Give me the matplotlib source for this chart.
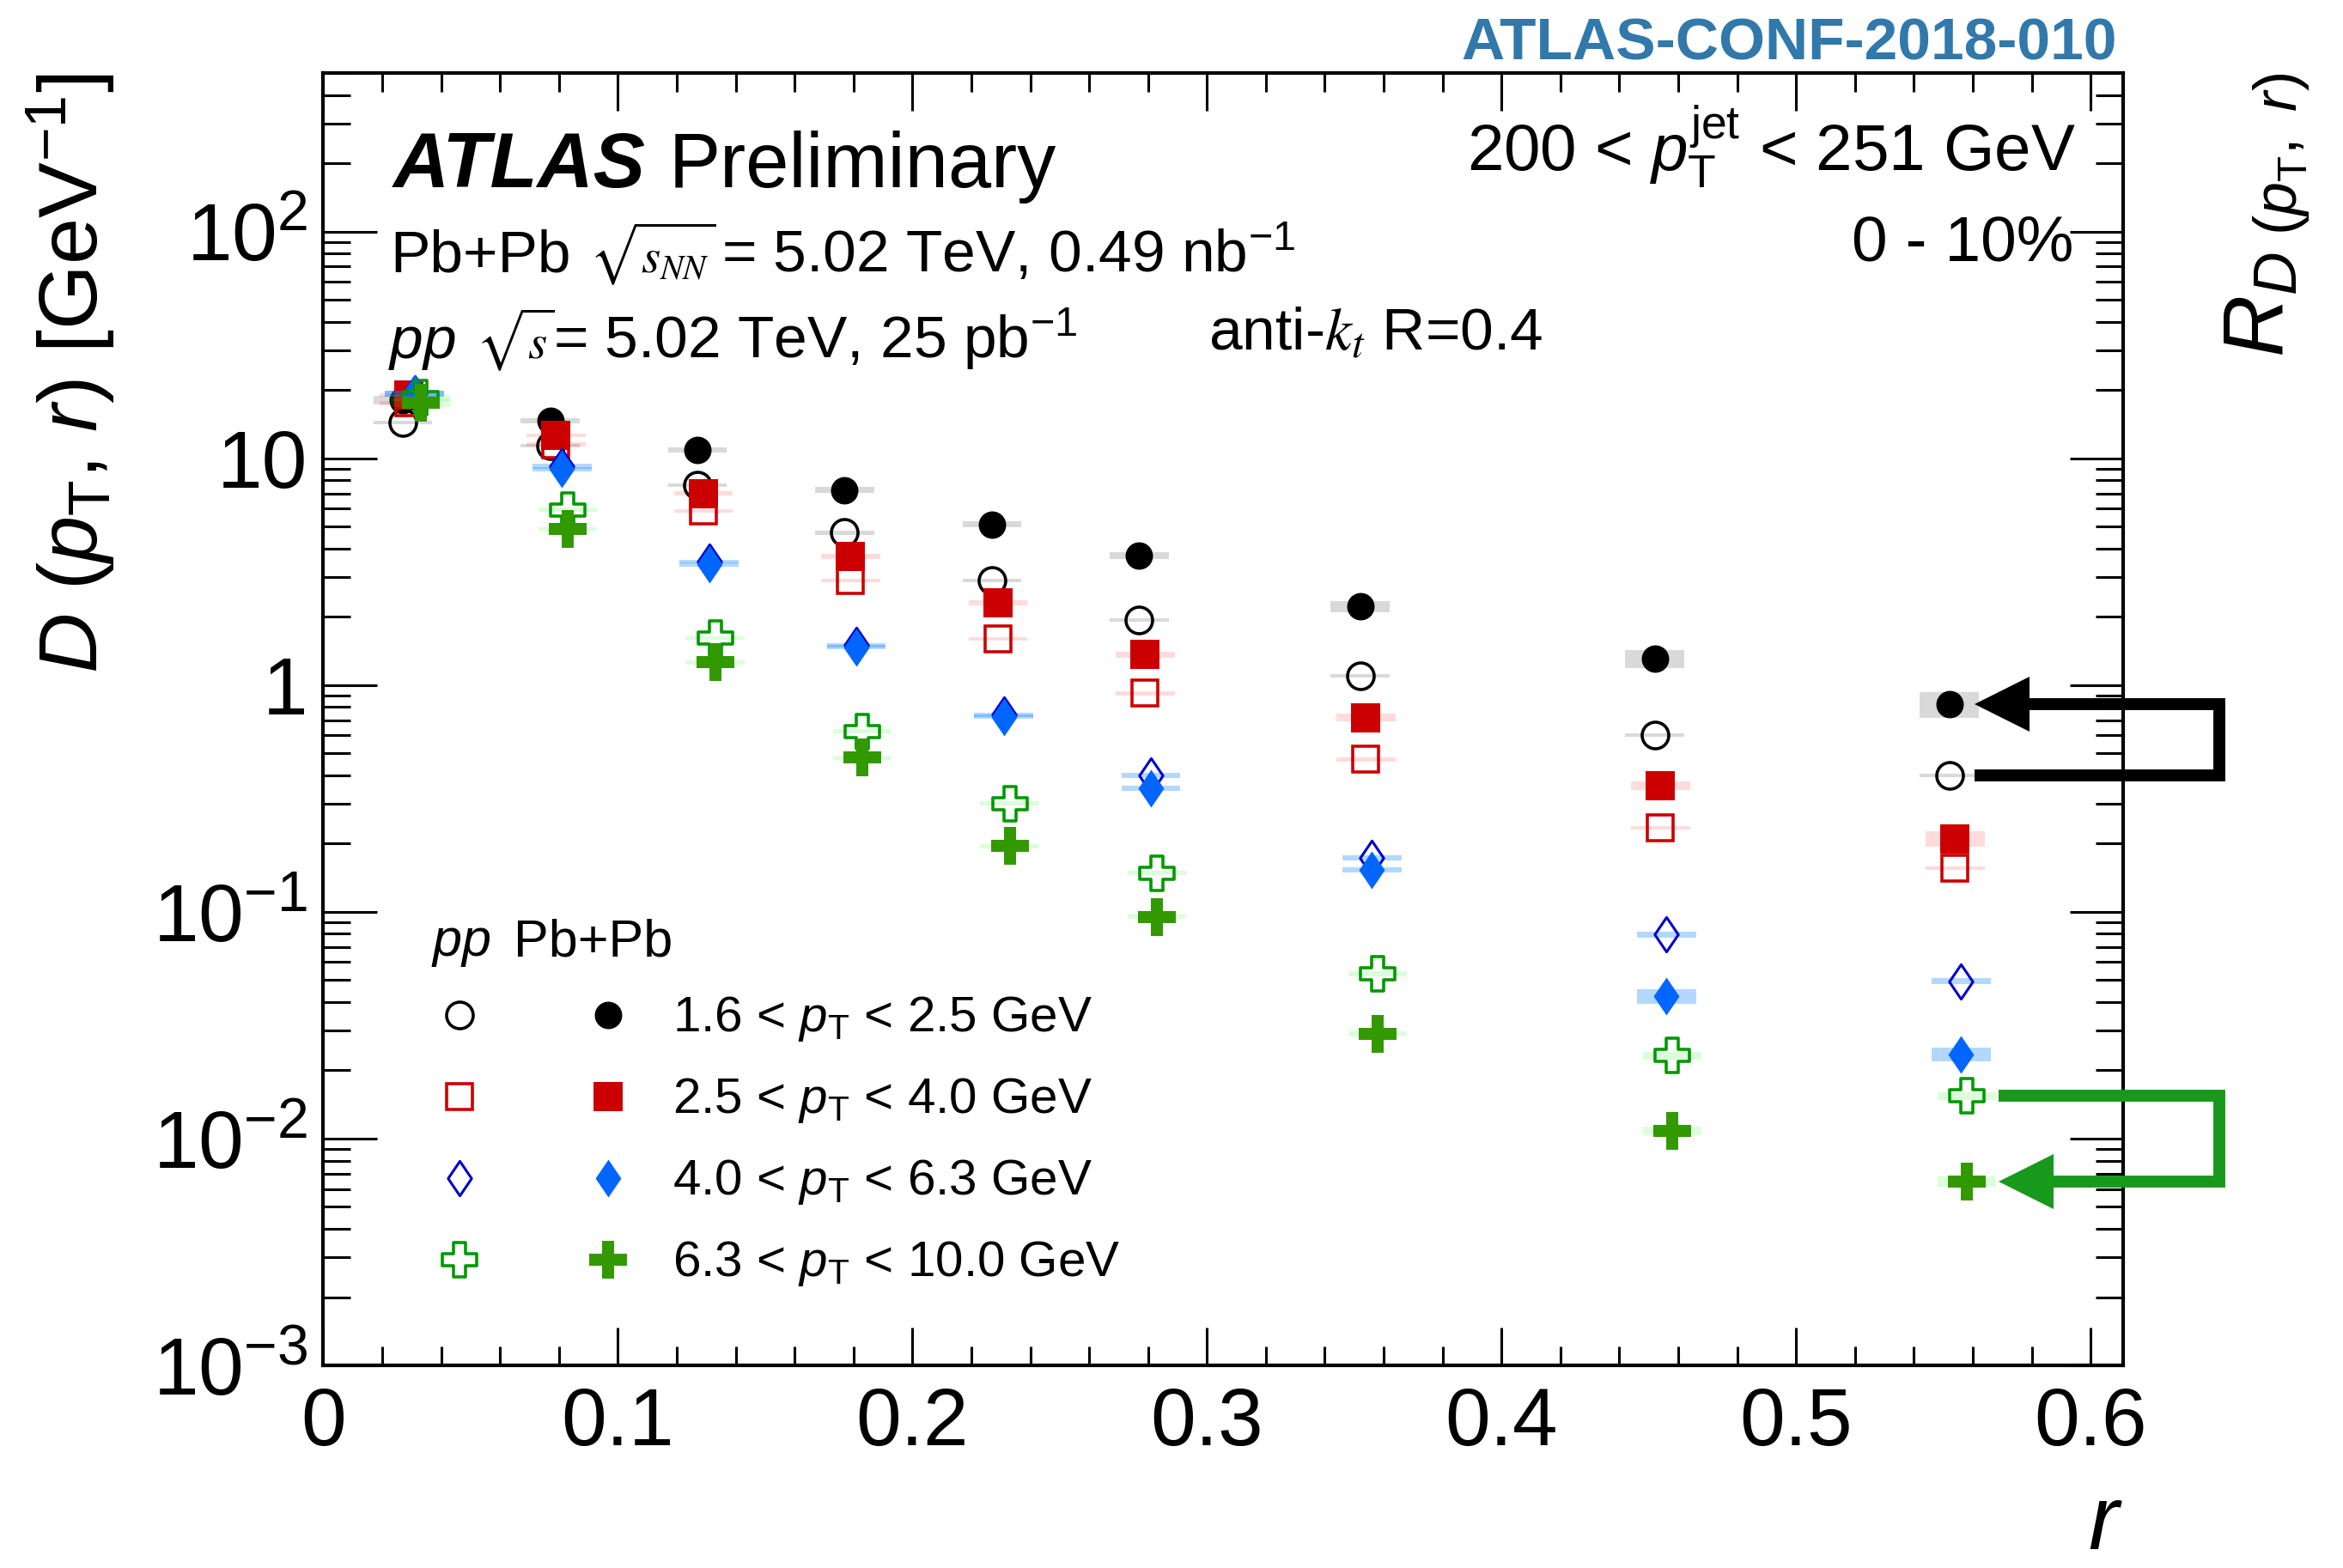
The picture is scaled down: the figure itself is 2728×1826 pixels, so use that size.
import numpy as np
import matplotlib
matplotlib.use('Agg')
import matplotlib.pyplot as plt
from matplotlib.path import Path
from matplotlib.ticker import FixedLocator, FixedFormatter, LogLocator, MultipleLocator, NullFormatter
from matplotlib.transforms import ScaledTranslation

plt.rcParams['font.family'] = ['Liberation Sans', 'DejaVu Sans']
plt.rcParams['mathtext.fontset'] = 'custom'
plt.rcParams['mathtext.rm'] = 'Liberation Sans'
plt.rcParams['mathtext.it'] = 'Liberation Sans:italic'
plt.rcParams['mathtext.bf'] = 'Liberation Sans:bold'

# ---- data ----
r_bins = [0.025, 0.075, 0.125, 0.175, 0.225, 0.275, 0.35, 0.45, 0.55]

pt_labels = ['1.6 < $p_{\\mathrm{T}}$ < 2.5 GeV',
             '2.5 < $p_{\\mathrm{T}}$ < 4.0 GeV',
             '4.0 < $p_{\\mathrm{T}}$ < 6.3 GeV',
             '6.3 < $p_{\\mathrm{T}}$ < 10.0 GeV']

# D(pT, r) [GeV^-1], Pb+Pb 0-10% and pp
pbpb_16_25 = [18.0, 14.6, 10.9, 7.25, 5.1, 3.73, 2.22, 1.31, 0.826]
pp_16_25 = [14.4, 11.4, 7.6, 4.69, 2.89, 1.93, 1.10, 0.60, 0.40]
pbpb_25_40 = [19.0, 12.6, 7.0, 3.70, 2.31, 1.36, 0.718, 0.36, 0.21]
pp_25_40 = [17.5, 11.5, 5.85, 2.89, 1.60, 0.92, 0.47, 0.235, 0.156]
pbpb_40_63 = [19.3, 8.95, 3.4, 1.47, 0.724, 0.35, 0.153, 0.0424, 0.0235]
pp_40_63 = [19.3, 9.2, 3.5, 1.5, 0.74, 0.40, 0.173, 0.0794, 0.0495]
pbpb_63_100 = [17.6, 4.87, 1.26, 0.478, 0.195, 0.095, 0.029, 0.0108, 0.00647]
pp_63_100 = [18.5, 5.92, 1.61, 0.625, 0.30, 0.148, 0.0533, 0.0232, 0.0154]

# relative systematic uncertainties (half height of the boxes)
sys_pbpb_16_25 = [0.045, 0.025, 0.025, 0.03, 0.03, 0.036, 0.06, 0.09, 0.13]
sys_pp_16_25 = [0.018] * 9
sys_pbpb_25_40 = [0.02, 0.02, 0.02, 0.025, 0.025, 0.03, 0.04, 0.045, 0.08]
sys_pp_25_40 = [0.02] * 9
sys_pbpb_40_63 = [0.03, 0.025, 0.022, 0.022, 0.022, 0.024, 0.024, 0.073, 0.068]
sys_pp_40_63 = [0.03, 0.025, 0.02, 0.02, 0.022, 0.024, 0.025, 0.03, 0.034]
sys_pbpb_63_100 = [0.045, 0.02, 0.02, 0.02, 0.022, 0.022, 0.025, 0.045, 0.054]
sys_pp_63_100 = [0.03, 0.02, 0.02, 0.02, 0.022, 0.022, 0.025, 0.035, 0.035]

x_ticks = [0, 0.1, 0.2, 0.3, 0.4, 0.5, 0.6]
x_ticklabels = ['0', '0.1', '0.2', '0.3', '0.4', '0.5', '0.6']
y_ticks = [1e-3, 1e-2, 1e-1, 1, 10, 100]
y_ticklabels = ['$10^{-3}$', '$10^{-2}$', '$10^{-1}$', '1', '10', '$10^{2}$']

# ---- marker shapes ----
def closed(verts):
    return Path(verts + [verts[0]], closed=True)

a = 0.33
cross = closed([(-a, 1), (a, 1), (a, a), (1, a), (1, -a), (a, -a), (a, -1), (-a, -1),
                (-a, -a), (-1, -a), (-1, a), (-a, a)])
diamond = closed([(0, 1), (0.68, 0), (0, -1), (-0.68, 0)])

# one entry per pT bin: pp style, Pb+Pb style
styles = [
    dict(pp=dict(marker='o', ms=22.3, mec='black', mfc='none', mew=2.6),
         pbpb=dict(marker='o', ms=23, mfc='black', mec='black', mew=0),
         box=(0, 0, 0, 0.15), dx=0.002),
    dict(pp=dict(marker='s', ms=22.3, mec='#cc0000', mfc='none', mew=2.6),
         pbpb=dict(marker='s', ms=23.8, mfc='#cc0000', mec='#cc0000', mew=0),
         box=(1, 0, 0, 0.14), dx=0.004),
    dict(pp=dict(marker=diamond, ms=29, mec='#0000cc', mfc='none', mew=2.2),
         pbpb=dict(marker=diamond, ms=31.7, mfc='#0066ff', mec='#0066ff', mew=0),
         box=(0, 0.5, 1, 0.3), dx=0.006),
    dict(pp=dict(marker=cross, ms=29, mec='#009900', mfc='none', mew=2.6),
         pbpb=dict(marker=cross, ms=31, mfc='#339900', mec='#339900', mew=0),
         box=(0, 1, 0, 0.14), dx=0.008),
]
series = [(pp_16_25, sys_pp_16_25, pbpb_16_25, sys_pbpb_16_25),
          (pp_25_40, sys_pp_25_40, pbpb_25_40, sys_pbpb_25_40),
          (pp_40_63, sys_pp_40_63, pbpb_40_63, sys_pbpb_40_63),
          (pp_63_100, sys_pp_63_100, pbpb_63_100, sys_pbpb_63_100)]

W, H = 2728, 1826
fig = plt.figure(figsize=(W / 100, H / 100), dpi=100)
ax = fig.add_axes([0.1380, 0.1292, 0.7681, 0.8243])
ax.set_yscale('log')

for k, (st, (pp, spp, pb, spb)) in enumerate(zip(styles, series)):
    x = np.array(r_bins) + st['dx']
    z = 2 + 3 * k
    for vals, sys in ((pp, spp), (pb, spb)):
        v = np.array(vals)
        s = np.array(sys)
        ax.bar(x, v * 2 * s, bottom=v * (1 - s), width=0.02, color=st['box'],
               linewidth=0, zorder=z)
    ax.plot(x, pp, ls='none', zorder=z + 1, **st['pp'])
    ax.plot(x, pb, ls='none', zorder=z + 2, **st['pbpb'])

# brackets with arrows pointing pp -> Pb+Pb in the last bin
x_right = 0.6438
head_len = 0.017
for y_from, y_to, x_tip, col in ((pp_16_25[-1], pbpb_16_25[-1], 0.5606, 'black'),
                                 (pp_63_100[-1], pbpb_63_100[-1], 0.5687, '#17991c')):
    ax.plot([x_tip, x_right, x_right, x_tip + head_len], [y_from, y_from, y_to, y_to],
            color=col, lw=10, solid_joinstyle='miter', solid_capstyle='butt',
            clip_on=False, zorder=20)
    ax.plot([x_tip], [y_to], marker='<', ms=46, color=col, mew=0, clip_on=False, zorder=21,
            transform=ax.transData + ScaledTranslation(23 / 72, 0, fig.dpi_scale_trans))

ax.set_xlim(0, 0.611)
ax.set_ylim(1e-3, 500)

ax.xaxis.set_major_locator(FixedLocator(x_ticks))
ax.xaxis.set_major_formatter(FixedFormatter(x_ticklabels))
ax.xaxis.set_minor_locator(MultipleLocator(0.02))
ax.yaxis.set_major_locator(FixedLocator(y_ticks))
ax.yaxis.set_major_formatter(FixedFormatter(y_ticklabels))
ax.yaxis.set_minor_locator(LogLocator(base=10, subs=np.arange(2, 10), numticks=50))
ax.yaxis.set_minor_formatter(NullFormatter())

ax.tick_params(which='both', direction='in', top=True, right=True, width=2.2, labelsize=68)
ax.tick_params(axis='x', which='major', length=32, pad=17)
ax.tick_params(axis='x', which='minor', length=16)
ax.tick_params(axis='y', which='major', length=45, pad=13)
ax.tick_params(axis='y', which='minor', length=23)
for sp in ax.spines.values():
    sp.set_linewidth(3)

# axis titles
fig.text(0.0418, 0.9529, '$D$ ($p_{\\mathrm{T}}$, $r$) [GeV$^{-1}$]', rotation=90,
         rotation_mode='anchor', ha='right', va='baseline', fontsize=70)
fig.text(0.9751, 0.9535, '$R_{D\\ (p_{\\mathrm{T}},\\ r)}$', rotation=90,
         rotation_mode='anchor', ha='right', va='baseline', fontsize=72)
fig.text(0.906, 0.012, '$r$', ha='right', va='baseline', fontsize=76)

# labels
fig.text(0.9036, 0.9622, 'ATLAS-CONF-2018-010', ha='right', va='baseline',
         fontsize=50, fontweight='bold', color='#3178ab')
fig.text(0.1679, 0.8806, 'ATLAS', fontsize=65, fontweight='bold', fontstyle='italic', va='baseline')
fig.text(0.2856, 0.8806, 'Preliminary', fontsize=65, va='baseline')
fig.text(0.1664, 0.8264, 'Pb+Pb', fontsize=50, va='baseline')
fig.text(0.2515, 0.8264, '$\\sqrt{s_{NN}}$', fontsize=41, va='baseline', math_fontfamily='stix')
fig.text(0.3079, 0.8264, '= 5.02 TeV, 0.49 nb$^{-1}$', fontsize=50, va='baseline')
fig.text(0.1657, 0.7716, '$pp$', fontsize=50, va='baseline')
fig.text(0.2030, 0.7716, '$\\sqrt{s}$', fontsize=41, va='baseline', math_fontfamily='stix')
fig.text(0.2360, 0.7716, '= 5.02 TeV, 25 pb$^{-1}$', fontsize=50, va='baseline')
fig.text(0.5158, 0.7771, 'anti-$k_{t}$ R=0.4', fontsize=50, va='baseline', math_fontfamily='stix')
fig.text(0.886, 0.8905, '200 < $p_{\\mathrm{T}}^{\\mathrm{jet}}$ < 251 GeV', fontsize=55,
         ha='right', va='baseline')
fig.text(0.885, 0.834, '0 - 10%', fontsize=54, ha='right', va='baseline')

# legend
ax.text(0.0599, 0.3169, '$pp$', transform=ax.transAxes, fontsize=44, va='baseline')
ax.text(0.1057, 0.3169, 'Pb+Pb', transform=ax.transAxes, fontsize=44, va='baseline')
for i, (st, lab) in enumerate(zip(styles, pt_labels)):
    yc = 0.2713 - 0.0631 * i
    ax.plot([0.0757], [yc], transform=ax.transAxes, clip_on=False, ls='none', **st['pp'])
    ax.plot([0.1582], [yc], transform=ax.transAxes, clip_on=False, ls='none', **st['pbpb'])
    ax.text(0.194, yc - 0.0126, lab, transform=ax.transAxes, fontsize=42, va='baseline')

fig.savefig('out.png', dpi=100)
